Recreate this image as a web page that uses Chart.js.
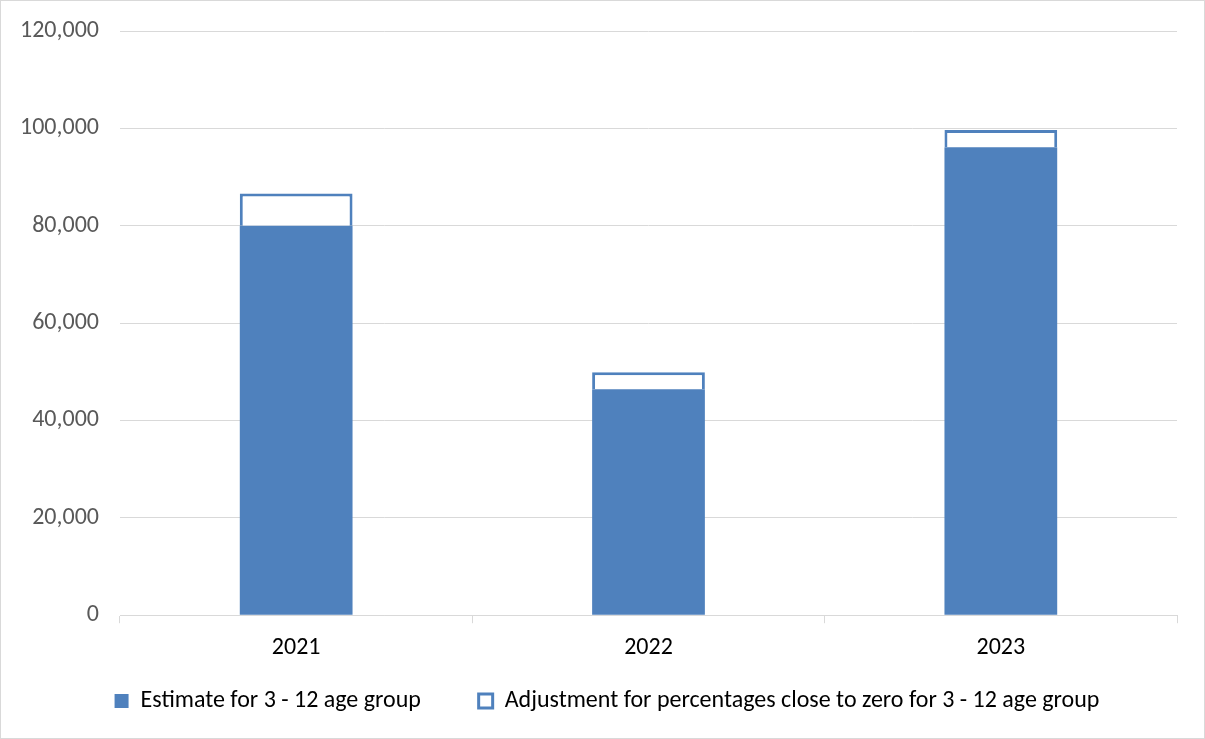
<!DOCTYPE html>
<html lang="en">
  <head>
    <meta charset="UTF-8" />
    <script src="https://cdn.jsdelivr.net/npm/chart.js@4.4.0/dist/chart.umd.min.js"></script>
    <title>Estimate for 3 - 12 age group</title>
    <style>
      body {
        margin: 0;
        padding: 0;
        background: white;
      }

      .container {
        box-sizing: border-box;
        width: 1205px;
        height: 739px;
        border: 1px solid #d9d9d9;
        background: white;
      }
    </style>
  </head>
  <body>
    <div class="container">
      <canvas id="chart"></canvas>
    </div>
    <script>
      const categories = ['2021', '2022', '2023']
      const estimate = [80000, 46400, 96100]
      const adjustment = [6600, 3500, 3550]
      const yTicks = [0, 20000, 40000, 60000, 80000, 100000, 120000]

      const blue = '#4f81bd'
      const font = "Carlito, Calibri, 'Liberation Sans Narrow', 'Open Sans', sans-serif"

      const fmt = (n) => n.toLocaleString('en-US')

      // legend is centred on the whole canvas, not on the padded area
      const legendShift = {
        id: 'legendShift',
        afterLayout(chart) {
          chart.legend.left += 18
          chart.legend.right += 18
        },
      }

      const ctx = document.getElementById('chart').getContext('2d')
      new Chart(ctx, {
        type: 'bar',
        data: {
          labels: categories,
          datasets: [
            {
              label: 'Estimate for 3 - 12 age group',
              data: estimate,
              backgroundColor: blue,
              borderWidth: 0,
            },
            {
              label: 'Adjustment for percentages close to zero for 3 - 12 age group',
              data: adjustment,
              backgroundColor: '#ffffff',
              borderColor: blue,
              borderWidth: 3,
            },
          ],
        },
        plugins: [legendShift],
        options: {
          responsive: true,
          maintainAspectRatio: false,
          animation: false,
          datasets: {
            bar: {
              barPercentage: 0.32,
              categoryPercentage: 1,
            },
          },
          layout: {
            padding: { left: 0, right: 27, top: 30, bottom: 15 },
          },
          plugins: {
            tooltip: { enabled: false },
            legend: {
              position: 'bottom',
              labels: {
                boxWidth: 14,
                boxHeight: 14,
                padding: 17,
                color: '#000000',
                font: { family: font, size: 24 },
                // wider gap between the two entries
                generateLabels: (chart) => {
                  const items = Chart.defaults.plugins.legend.labels.generateLabels(chart)
                  items[0].text += '\u2003\u2002\u2009'
                  return items
                },
              },
            },
          },
          scales: {
            x: {
              stacked: true,
              grid: {
                offset: true,
                drawOnChartArea: false,
                color: '#d9d9d9',
                tickLength: 8,
              },
              border: { display: true, color: '#d9d9d9' },
              ticks: {
                color: '#000000',
                padding: 10,
                font: { family: font, size: 24 },
              },
            },
            y: {
              stacked: true,
              min: 0,
              max: 120000,
              afterBuildTicks: (scale) => {
                scale.ticks = yTicks.map((v) => ({ value: v }))
              },
              afterFit: (scale) => {
                scale.width = 119
                scale.paddingTop = 0
                scale.paddingBottom = 0
              },
              grid: {
                color: '#d9d9d9',
                drawTicks: false,
              },
              border: { display: false },
              ticks: {
                color: '#595959',
                padding: 21,
                font: { family: font, size: 24 },
                callback: (v) => fmt(v),
              },
            },
          },
        },
      })
    </script>
  </body>
</html>
